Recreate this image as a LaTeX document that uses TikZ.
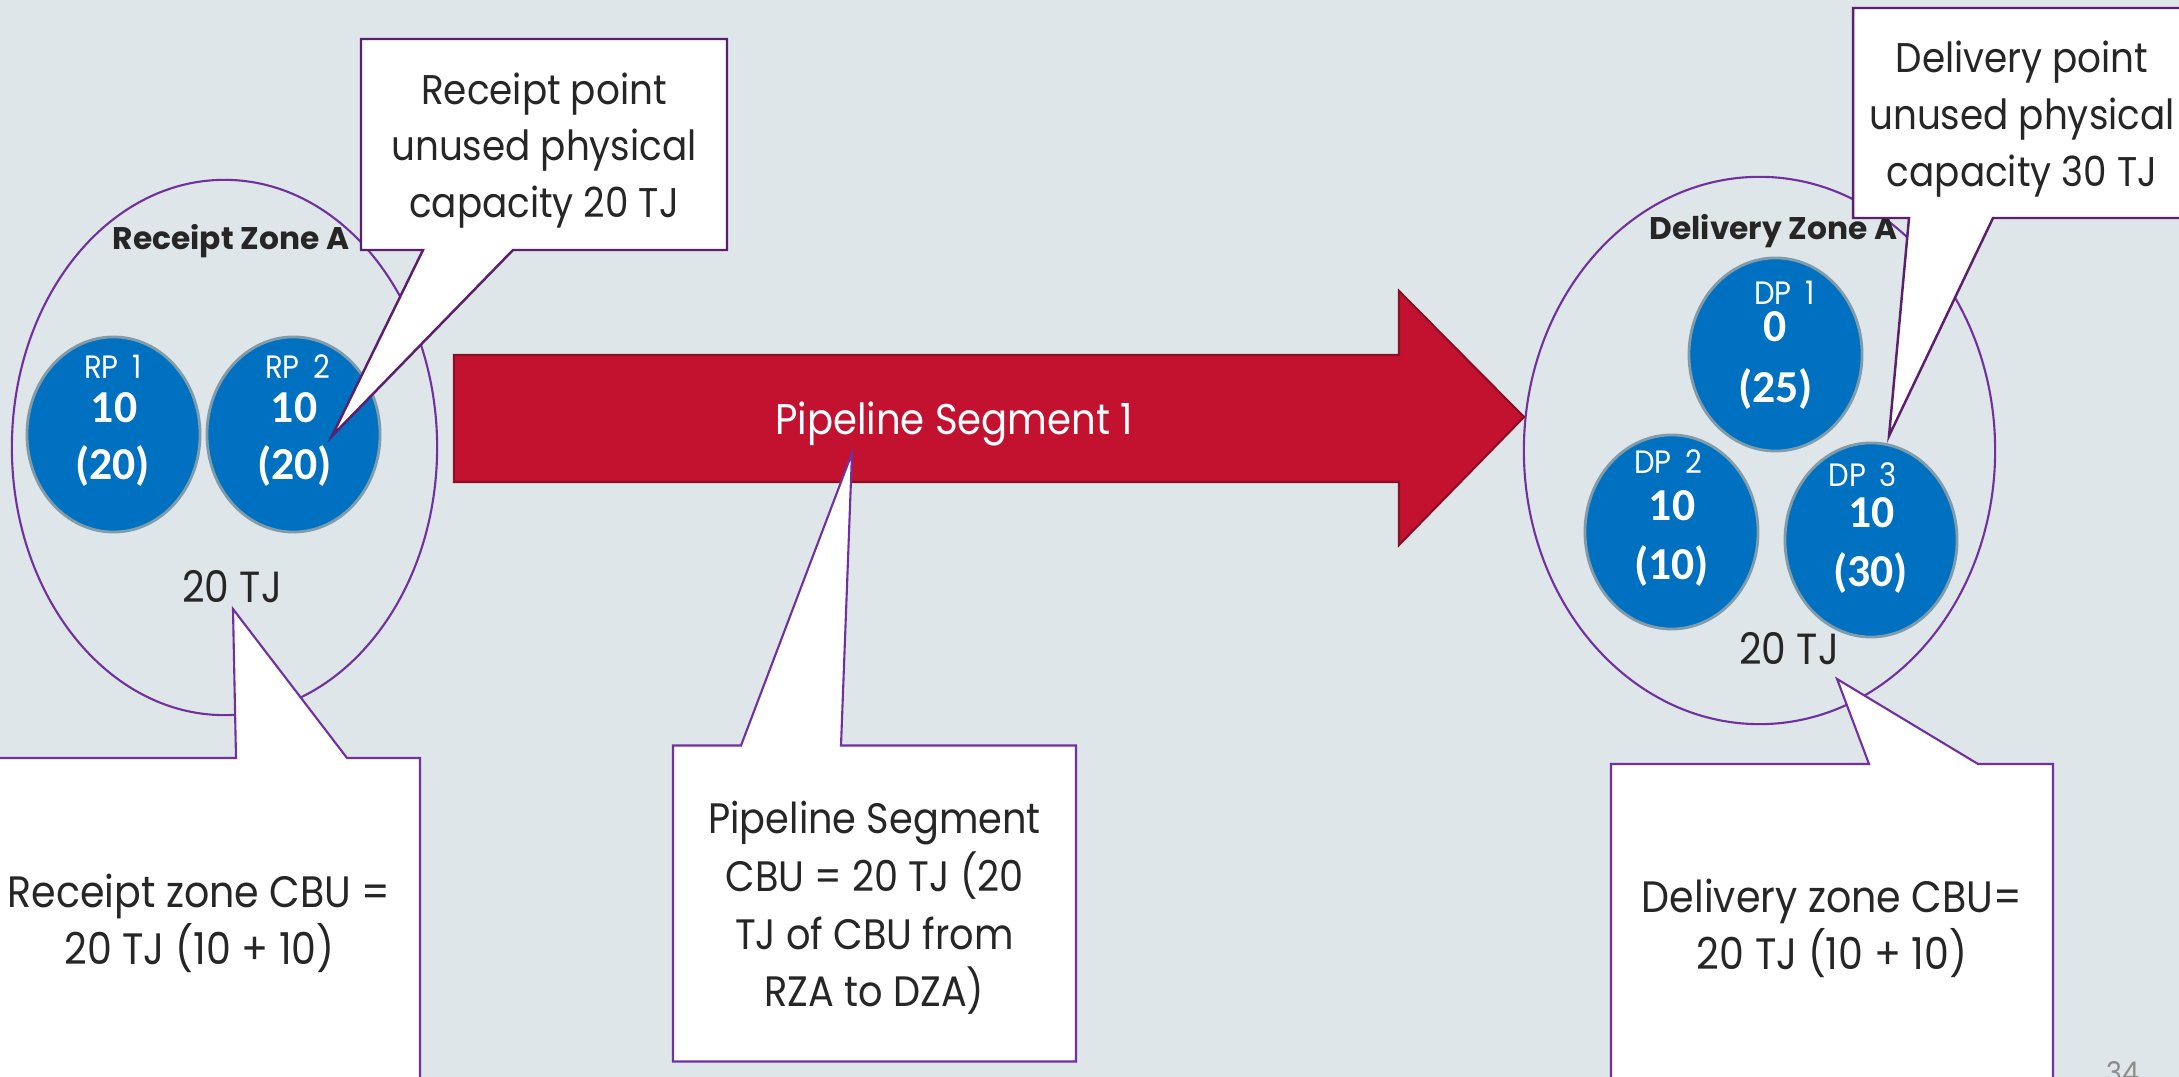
\documentclass[tikz,border=0pt]{standalone}
\usepackage{fontspec}
\setmainfont{Poppins}[FakeStretch=0.9]
\newfontfamily\zonefont{Poppins}
\newfontfamily\calib{Carlito}
\usetikzlibrary{shapes.geometric,calc}
\definecolor{bg}{RGB}{223,230,233}
\definecolor{zonepurple}{RGB}{112,48,160}
\definecolor{darkpurple}{RGB}{91,31,107}
\definecolor{pipered}{RGB}{195,18,48}
\definecolor{pipeedge}{RGB}{140,14,36}
\definecolor{ptblue}{RGB}{0,112,192}
\definecolor{ptedge}{RGB}{128,155,170}
\definecolor{txt}{RGB}{38,38,38}
\definecolor{pagegray}{RGB}{140,140,140}
\newcommand{\ptsp}{\hspace{0.42em}}
\begin{document}
\begin{tikzpicture}[x=0.01cm,y=-0.01cm,
  zoneline/.style={ellipse, draw=zonepurple, line width=0.6pt, inner sep=0},
  zonelabel/.style={anchor=base, text=txt, inner sep=0, font=\zonefont\bfseries\fontsize{8.9}{10}\selectfont},
  ptnode/.style={ellipse, fill=ptblue, draw=ptedge, line width=0.8pt, minimum width=1.73cm, minimum height=1.95cm, inner sep=0},
  ptname/.style={anchor=base, inner sep=0, text=white, font=\fontsize{9.2}{10}\selectfont},
  ptnum/.style={anchor=base, inner sep=0, text=white, font=\calib\bfseries\fontsize{13}{14}\selectfont},
  tjlabel/.style={anchor=base, inner sep=0, text=txt, font=\fontsize{12.4}{14}\selectfont},
  calloutA/.style={draw=darkpurple, fill=white, line width=0.7pt, line join=miter},
  calloutB/.style={draw=zonepurple, fill=white, line width=0.6pt, line join=miter},
  ctop/.style={anchor=base, inner sep=0, text=txt, font=\fontsize{11.8}{14}\selectfont},
  cbot/.style={anchor=base, inner sep=0, text=txt, font=\fontsize{12.5}{14}\selectfont},
  cmid/.style={anchor=base, inner sep=0, text=txt, font=\fontsize{12.1}{14}\selectfont},
  pipeshape/.style={fill=pipered, draw=pipeedge, line width=0.6pt, line join=miter}
]
\useasboundingbox (0,0) rectangle (2179,1077);
\clip (0,0) rectangle (2179,1077);
\fill[bg] (0,0) rectangle (2179,1077);

% receipt zone
\node[zoneline, minimum width=4.25cm, minimum height=5.35cm] (rza) at (224.5,447.5) {};
\node[zonelabel] (rzalabel) at (231,250) {Receipt Zone A};
\node[ptnode] (rp1) at (113.5,434.5) {};
\node[ptnode] (rp2) at (293.5,434.5) {};
\node[ptname] (rp1name) at (113,379) {RP\ptsp 1};
\node[ptnum] (rp1val) at (114,423) {10};
\node[ptnum] (rp1cap) at (112.5,480) {(20)};
\node[ptname] (rp2name) at (297.5,379) {RP\ptsp 2};
\node[ptnum] (rp2val) at (294,423) {10};
\node[ptnum] (rp2cap) at (294.5,480) {(20)};
\node[tjlabel] (rzatj) at (232,603) {20 TJ};

% delivery zone
\node[zoneline, minimum width=4.71cm, minimum height=5.47cm] (dza) at (1759.5,450.5) {};
\node[zonelabel] (dzalabel) at (1773.5,240) {Delivery Zone A};
\node[ptnode, minimum width=1.73cm, minimum height=1.93cm] (dp1) at (1775.5,354.5) {};
\node[ptnode, minimum width=1.73cm, minimum height=1.94cm] (dp2) at (1671.5,532) {};
\node[ptnode, minimum width=1.72cm, minimum height=1.94cm] (dp3) at (1871,540) {};
\node[ptname] (dp1name) at (1784.5,305) {DP\ptsp 1};
\node[ptnum] (dp1val) at (1775,342) {0};
\node[ptnum] (dp1cap) at (1775.5,403) {(25)};
\node[ptname] (dp2name) at (1668,474) {DP\ptsp 2};
\node[ptnum] (dp2val) at (1672,521) {10};
\node[ptnum] (dp2cap) at (1671.5,580) {(10)};
\node[ptname] (dp3name) at (1862.5,487) {DP\ptsp 3};
\node[ptnum] (dp3val) at (1871.5,528) {10};
\node[ptnum] (dp3cap) at (1870.5,587) {(30)};
\node[tjlabel] (dzatj) at (1789,665) {20 TJ};

% pipeline arrow
\draw[pipeshape] (454,355) -- (1399,355) -- (1399,291) -- (1524,417) -- (1399,545) -- (1399,482) -- (454,482) -- cycle;
\node[anchor=base, inner sep=0, text=white, font=\fontsize{12.2}{14}\selectfont] (pipelabel) at (954,435) {Pipeline Segment 1};

% receipt point callout
\coordinate (rptip) at (332,436);
\draw[calloutA] (361,39) -- (727,39) -- (727,250) -- (513,250) -- (rptip) -- (423,250) -- (361,250) -- cycle;
\node[ctop] (rpc1) at (544,105) {Receipt point};
\node[ctop] (rpc2) at (544,161) {unused physical};
\node[ctop] (rpc3) at (544,218) {capacity 20 TJ};

% delivery point callout
\coordinate (dptip) at (1889,436);
\draw[calloutA] (1853,8) -- (2200,8) -- (2200,218) -- (1993,218) -- (dptip) -- (1909,218) -- (1853,218) -- cycle;
\node[ctop] (dpc1) at (2022,73) {Delivery point};
\node[ctop] (dpc2) at (2022,130) {unused physical};
\node[ctop] (dpc3) at (2022,187) {capacity 30 TJ};

% receipt zone callout
\coordinate (rztip) at (233,609);
\draw[calloutB] (-20,758) -- (236,758) -- (rztip) -- (347,758) -- (420,758) -- (420,1100) -- (-20,1100) -- cycle;
\node[cbot] (rzc1) at (199,908) {Receipt zone CBU =};
\node[cbot] (rzc2) at (199.5,965) {20 TJ (10 + 10)};

% pipeline segment callout
\coordinate (pstip) at (852,453);
\draw[calloutB] (673,745.5) -- (741,745.5) -- (pstip) -- (841,745.5) -- (1076,745.5) -- (1076,1061.5) -- (673,1061.5) -- cycle;
\node[cmid] (psc1) at (874.5,834) {Pipeline Segment};
\node[cmid] (psc2) at (874.5,892) {CBU = 20 TJ (20};
\node[cmid] (psc3) at (874.5,950) {TJ of CBU from};
\node[cmid] (psc4) at (874.5,1007) {RZA to DZA)};

% delivery zone callout
\coordinate (dztip) at (1837,679);
\draw[calloutB] (1611,764) -- (1869,764) -- (dztip) -- (1978,764) -- (2053,764) -- (2053,1100) -- (1611,1100) -- cycle;
\node[cbot] (dzc1) at (1832,913) {Delivery zone CBU=};
\node[cbot] (dzc2) at (1832,970) {20 TJ (10 + 10)};

\node[anchor=north, text=pagegray, font=\fontsize{8.5}{10}\selectfont, inner sep=0] (pagenum) at (2123,1061) {34};
\end{tikzpicture}
\end{document}
